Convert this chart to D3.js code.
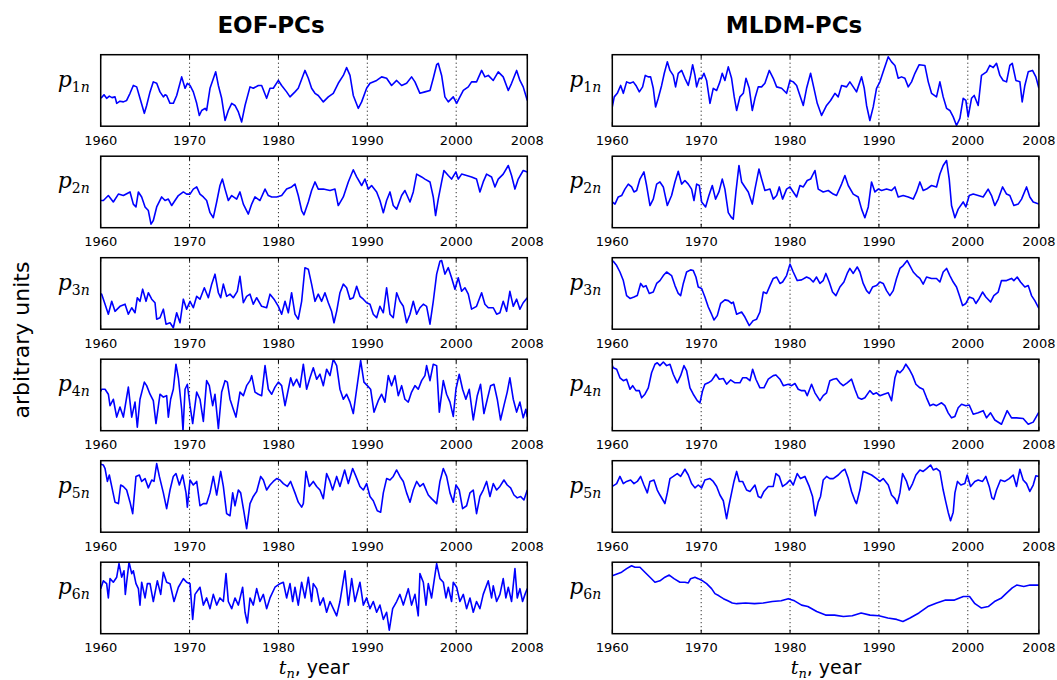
<!DOCTYPE html>
<html>
<head>
<meta charset="utf-8">
<script src="https://cdn.jsdelivr.net/npm/d3@7"></script>
<style>
  body { margin: 0; background: #fff; }
  svg { display: block; font-family: "DejaVu Sans", sans-serif; }
  .tick-label { font-size: 13px; fill: #000; }
  .grid-line { stroke: #000; stroke-width: 1; stroke-dasharray: 1,3; }
  .frame { fill: none; stroke: #000; stroke-width: 1.5; }
  .series { fill: none; stroke: #0000ff; stroke-width: 1.6; stroke-linejoin: round; }
</style>
</head>
<body>
<script>
// tick labels and grid years
const tickYears = [1960, 1970, 1980, 1990, 2000, 2008]
const gridYears = [1970, 1980, 1990, 2000]
const modes = ['1', '2', '3', '4', '5', '6']

// EOF principal components, [year, arbitrary units]
const eofP1 = [[1960.00,40],[1960.11,40],[1960.37,44],[1960.67,39],[1960.97,42],[1961.27,40],[1961.61,41],[1961.80,32],[1962.17,35],[1962.55,34],[1962.92,36],[1963.30,46],[1963.67,57],[1964.05,55],[1964.42,39],[1964.91,18],[1965.17,29],[1965.55,48],[1965.92,62],[1966.30,60],[1966.67,48],[1967.05,41],[1967.24,44],[1967.42,43],[1967.80,32],[1968.17,32],[1968.55,43],[1969.11,69],[1969.49,53],[1969.75,60],[1970.05,57],[1970.42,48],[1970.80,32],[1971.10,15],[1971.36,22],[1971.74,25],[1971.92,22],[1972.30,53],[1972.94,76],[1973.24,57],[1973.61,39],[1973.99,8],[1974.36,22],[1974.74,32],[1975.11,29],[1975.49,20],[1975.86,6],[1976.24,29],[1976.80,55],[1977.17,53],[1977.74,57],[1978.11,57],[1978.67,39],[1979.05,53],[1979.42,53],[1979.99,64],[1980.36,57],[1980.92,48],[1981.30,41],[1981.86,48],[1982.23,53],[1982.98,78],[1983.36,67],[1983.73,53],[1984.11,46],[1984.48,43],[1985.05,34],[1985.61,41],[1986.17,46],[1986.73,60],[1987.30,71],[1987.67,82],[1988.05,71],[1988.42,43],[1988.98,25],[1989.36,34],[1989.92,53],[1990.30,60],[1991.05,64],[1991.61,69],[1992.17,67],[1992.73,57],[1993.30,64],[1993.86,57],[1994.42,60],[1994.98,69],[1995.36,62],[1995.92,46],[1996.48,48],[1997.05,50],[1997.42,67],[1997.80,86],[1997.98,88],[1998.36,71],[1998.73,41],[1999.11,34],[1999.67,41],[2000.05,32],[2000.42,41],[2000.80,50],[2001.36,55],[2001.73,62],[2002.29,62],[2002.86,78],[2003.23,69],[2003.61,71],[2004.17,64],[2004.73,76],[2005.29,69],[2005.86,50],[2006.23,60],[2006.80,78],[2007.17,64],[2007.54,55],[2008.00,36]]

const eofP2 = [[1960.00,38],[1960.30,38],[1960.86,45],[1961.42,36],[1961.99,47],[1962.55,45],[1963.30,50],[1963.67,33],[1963.97,29],[1964.24,50],[1964.61,43],[1964.99,29],[1965.36,24],[1965.66,5],[1965.92,10],[1966.30,29],[1966.86,43],[1967.24,38],[1967.61,40],[1967.99,31],[1968.36,38],[1968.74,45],[1969.30,50],[1969.67,47],[1970.05,47],[1970.42,54],[1970.80,57],[1971.17,47],[1971.55,43],[1971.92,38],[1972.30,21],[1972.67,14],[1973.05,36],[1973.42,59],[1973.69,68],[1973.99,54],[1974.36,38],[1974.74,45],[1975.30,40],[1975.67,50],[1976.05,33],[1976.61,19],[1976.99,33],[1977.36,43],[1977.92,38],[1978.49,54],[1978.86,45],[1979.24,43],[1979.80,43],[1980.36,45],[1980.92,54],[1981.48,57],[1981.86,61],[1982.23,45],[1982.61,24],[1982.87,18],[1983.36,36],[1983.73,52],[1984.11,64],[1984.48,54],[1985.05,54],[1985.80,52],[1986.36,54],[1986.73,31],[1987.30,43],[1987.86,64],[1988.42,81],[1988.80,71],[1989.36,59],[1989.73,68],[1990.11,54],[1990.48,59],[1991.05,50],[1991.42,38],[1991.80,21],[1992.17,38],[1992.55,50],[1992.92,31],[1993.30,26],[1993.86,45],[1994.23,52],[1994.80,36],[1995.17,50],[1995.55,75],[1996.11,71],[1996.48,68],[1997.05,64],[1997.42,43],[1997.68,17],[1997.98,40],[1998.36,64],[1998.62,80],[1999.11,73],[1999.48,68],[1999.97,78],[2000.23,68],[2000.61,75],[2001.17,73],[2001.73,71],[2002.29,68],[2002.67,50],[2003.04,64],[2003.42,75],[2003.98,71],[2004.36,57],[2004.73,68],[2005.29,75],[2005.86,87],[2006.23,73],[2006.61,54],[2006.98,68],[2007.54,80],[2008.00,78]]

const eofP3 = [[1960.00,49],[1960.11,49],[1960.49,35],[1960.86,21],[1961.24,39],[1961.61,25],[1962.17,32],[1962.74,35],[1963.11,21],[1963.49,30],[1963.86,23],[1964.12,44],[1964.42,39],[1964.72,56],[1965.10,39],[1965.36,51],[1965.74,42],[1966.11,37],[1966.30,14],[1966.67,16],[1967.05,28],[1967.35,7],[1967.80,9],[1968.17,2],[1968.55,23],[1968.92,9],[1969.30,42],[1969.67,28],[1970.05,39],[1970.42,30],[1970.80,46],[1971.17,42],[1971.66,58],[1972.11,44],[1972.49,63],[1972.86,77],[1973.24,51],[1973.50,44],[1973.80,63],[1974.17,46],[1974.55,49],[1974.92,44],[1975.37,53],[1975.67,74],[1976.05,37],[1976.42,46],[1976.80,49],[1977.17,35],[1977.55,44],[1978.11,32],[1978.67,30],[1979.05,49],[1979.50,42],[1979.99,32],[1980.36,21],[1980.74,39],[1981.11,23],[1981.48,51],[1981.86,21],[1982.23,14],[1982.61,39],[1982.98,86],[1983.36,84],[1983.73,63],[1984.11,39],[1984.48,49],[1984.86,39],[1985.23,51],[1985.61,37],[1985.98,25],[1986.25,9],[1986.55,25],[1986.92,51],[1987.30,63],[1987.67,58],[1988.05,42],[1988.42,44],[1988.80,60],[1989.17,46],[1989.55,42],[1989.92,37],[1990.30,35],[1990.67,21],[1991.05,16],[1991.42,32],[1991.80,23],[1992.17,58],[1992.55,21],[1992.92,16],[1993.30,51],[1993.67,39],[1994.05,32],[1994.42,9],[1994.80,21],[1995.17,39],[1995.55,21],[1995.92,30],[1996.30,35],[1996.67,32],[1997.05,7],[1997.42,39],[1997.80,77],[1998.17,95],[1998.36,96],[1998.73,77],[1999.11,86],[1999.48,72],[1999.86,56],[2000.23,72],[2000.61,53],[2000.98,58],[2001.36,49],[2001.73,28],[2002.29,32],[2002.86,51],[2003.23,35],[2003.61,30],[2004.17,30],[2004.55,21],[2004.92,23],[2005.29,39],[2005.67,25],[2006.04,53],[2006.42,32],[2006.80,42],[2007.17,28],[2007.54,37],[2008.00,44]]

const eofP4 = [[1960.00,55],[1960.11,58],[1960.49,58],[1960.86,51],[1961.05,35],[1961.42,44],[1961.80,19],[1962.17,33],[1962.55,19],[1963.11,61],[1963.49,19],[1963.86,40],[1964.12,5],[1964.42,44],[1964.91,68],[1965.17,63],[1965.55,51],[1965.92,42],[1966.22,10],[1966.67,51],[1967.05,47],[1967.42,49],[1967.61,19],[1967.87,44],[1968.17,58],[1968.47,93],[1968.74,74],[1969.11,30],[1969.26,0],[1969.49,58],[1969.75,65],[1970.05,35],[1970.35,10],[1970.80,54],[1971.17,44],[1971.55,13],[1971.92,70],[1972.22,63],[1972.60,35],[1972.86,51],[1973.24,3],[1973.61,54],[1973.99,70],[1974.25,68],[1974.55,44],[1974.92,30],[1975.22,19],[1975.67,54],[1976.05,49],[1976.42,63],[1976.80,70],[1976.99,77],[1977.36,54],[1977.74,51],[1978.11,49],[1978.49,91],[1978.86,58],[1979.24,51],[1979.61,61],[1979.99,68],[1980.36,63],[1980.74,35],[1981.00,51],[1981.37,74],[1981.67,63],[1982.05,72],[1982.42,61],[1982.80,93],[1983.17,58],[1983.55,74],[1983.92,88],[1984.30,72],[1984.67,79],[1985.05,63],[1985.42,86],[1985.80,77],[1986.17,100],[1986.55,91],[1986.92,58],[1987.30,44],[1987.67,51],[1988.05,40],[1988.42,24],[1988.80,58],[1989.25,98],[1989.62,68],[1990.00,63],[1990.37,58],[1990.75,26],[1991.23,42],[1991.61,51],[1991.98,40],[1992.36,77],[1992.73,63],[1993.11,77],[1993.48,49],[1993.86,63],[1994.23,44],[1994.61,40],[1994.98,54],[1995.36,63],[1995.73,58],[1996.11,70],[1996.48,77],[1996.67,91],[1997.05,70],[1997.42,93],[1997.80,91],[1998.10,26],[1998.55,70],[1998.92,51],[1999.30,40],[1999.67,20],[1999.97,58],[2000.34,79],[2000.72,58],[2001.09,44],[2001.47,58],[2001.92,15],[2002.37,49],[2002.74,65],[2003.12,24],[2003.50,44],[2003.87,63],[2004.25,65],[2004.62,44],[2004.99,15],[2005.37,35],[2005.74,54],[2006.04,74],[2006.42,44],[2006.80,26],[2007.17,40],[2007.54,18],[2007.84,30],[2008.00,19]]

const eofP5 = [[1960.00,95],[1960.30,94],[1960.49,89],[1960.75,71],[1960.97,80],[1961.24,64],[1961.61,42],[1961.99,40],[1962.25,66],[1962.55,64],[1962.92,59],[1963.30,42],[1963.60,26],[1963.97,78],[1964.35,80],[1964.61,71],[1964.99,75],[1965.36,62],[1965.74,73],[1966.00,71],[1966.30,96],[1966.60,78],[1967.05,55],[1967.42,33],[1967.80,59],[1968.17,78],[1968.47,82],[1968.85,66],[1969.22,80],[1969.60,55],[1969.75,35],[1970.05,73],[1970.42,66],[1970.80,71],[1971.17,37],[1971.55,40],[1971.92,40],[1972.30,55],[1972.67,78],[1973.05,52],[1973.50,85],[1973.80,64],[1974.17,26],[1974.55,23],[1974.85,55],[1975.11,37],[1975.49,59],[1975.75,55],[1976.12,28],[1976.42,5],[1976.80,40],[1977.17,50],[1977.55,57],[1978.00,78],[1978.30,73],[1978.67,59],[1979.05,66],[1979.42,71],[1979.80,75],[1980.17,73],[1980.55,68],[1981.00,64],[1981.37,71],[1981.86,55],[1982.23,42],[1982.61,35],[1982.80,40],[1983.10,85],[1983.47,64],[1983.92,71],[1984.30,64],[1984.67,59],[1985.05,47],[1985.42,82],[1985.80,71],[1986.10,59],[1986.55,78],[1986.92,64],[1987.45,87],[1987.86,68],[1988.35,89],[1988.72,78],[1989.17,64],[1989.55,59],[1989.92,68],[1990.30,50],[1990.67,44],[1991.12,30],[1991.50,28],[1991.80,55],[1992.17,75],[1992.55,73],[1992.92,78],[1993.30,87],[1993.67,78],[1994.05,71],[1994.42,55],[1994.80,42],[1995.17,59],[1995.55,71],[1995.92,64],[1996.30,68],[1996.86,52],[1997.23,47],[1997.80,40],[1998.17,71],[1998.55,89],[1998.92,78],[1999.30,55],[1999.67,42],[1999.97,66],[2000.34,59],[2000.72,33],[2001.17,37],[2001.55,55],[2001.92,59],[2002.29,26],[2002.67,50],[2003.04,59],[2003.42,71],[2003.80,50],[2004.17,68],[2004.55,59],[2004.92,64],[2005.37,73],[2005.74,66],[2006.12,62],[2006.50,52],[2006.87,48],[2007.25,50],[2007.62,45],[2008.00,59]]

const eofP6 = [[1960.00,63],[1960.30,74],[1960.67,70],[1960.86,50],[1961.05,77],[1961.42,72],[1961.80,79],[1962.06,98],[1962.36,79],[1962.62,88],[1962.77,55],[1962.92,72],[1963.19,100],[1963.49,84],[1963.67,88],[1963.97,70],[1964.24,63],[1964.42,40],[1964.61,72],[1964.99,50],[1965.25,70],[1965.55,70],[1965.92,45],[1966.37,74],[1966.75,55],[1967.05,86],[1967.42,72],[1967.80,70],[1968.25,45],[1968.74,65],[1969.30,77],[1969.67,72],[1970.05,70],[1970.35,20],[1970.61,55],[1971.17,65],[1971.55,40],[1971.92,50],[1972.30,35],[1972.67,55],[1973.05,40],[1973.42,50],[1973.80,45],[1974.10,84],[1974.36,45],[1974.74,35],[1975.11,50],[1975.49,40],[1975.97,65],[1976.24,30],[1976.50,15],[1976.80,50],[1977.17,40],[1977.55,63],[1977.92,45],[1978.30,55],[1978.67,35],[1979.05,50],[1979.61,65],[1980.17,70],[1980.55,72],[1980.92,50],[1981.30,70],[1981.60,45],[1981.86,65],[1982.23,40],[1982.61,72],[1982.98,50],[1983.36,79],[1983.73,45],[1983.92,70],[1984.30,63],[1984.67,40],[1985.05,50],[1985.42,30],[1985.80,45],[1986.17,35],[1986.55,25],[1986.92,45],[1987.48,88],[1987.86,40],[1988.24,77],[1988.61,45],[1989.17,72],[1989.55,40],[1989.92,50],[1990.30,35],[1990.67,45],[1991.05,30],[1991.42,40],[1991.80,20],[1992.17,30],[1992.47,5],[1992.85,35],[1993.30,45],[1993.67,55],[1994.05,40],[1994.61,63],[1994.98,40],[1995.36,55],[1995.73,25],[1995.92,84],[1996.30,72],[1996.60,40],[1996.86,70],[1997.23,50],[1997.80,98],[1998.17,77],[1998.55,72],[1998.85,50],[1999.11,65],[1999.48,45],[1999.67,72],[2000.05,65],[2000.42,45],[2000.80,55],[2001.17,35],[2001.55,50],[2001.92,30],[2002.29,45],[2002.67,35],[2003.04,55],[2003.61,74],[2003.98,50],[2004.17,67],[2004.55,45],[2004.92,55],[2005.29,77],[2005.59,50],[2005.86,65],[2006.23,45],[2006.61,91],[2006.87,50],[2007.17,63],[2007.47,45],[2007.74,55],[2008.00,63]]

// MLDM principal components, [year, arbitrary units]
const mldmP1 = [[1960.00,27],[1960.22,41],[1960.56,46],[1960.94,57],[1961.24,46],[1961.61,62],[1961.99,60],[1962.36,62],[1962.66,57],[1963.04,48],[1963.41,55],[1963.71,71],[1964.05,69],[1964.31,69],[1964.61,53],[1964.87,27],[1965.17,39],[1965.55,57],[1965.85,74],[1966.19,90],[1966.49,78],[1966.86,71],[1967.12,55],[1967.42,74],[1967.80,78],[1968.17,67],[1968.55,57],[1968.81,71],[1969.04,86],[1969.30,71],[1969.49,55],[1969.79,67],[1970.05,67],[1970.31,74],[1970.61,64],[1970.99,32],[1971.36,53],[1971.74,50],[1972.11,62],[1972.37,74],[1972.67,64],[1973.05,83],[1973.42,67],[1973.72,41],[1973.99,22],[1974.36,41],[1974.74,46],[1975.04,67],[1975.41,53],[1975.75,22],[1976.05,39],[1976.42,55],[1976.80,55],[1977.17,60],[1977.66,78],[1978.11,67],[1978.49,55],[1979.05,53],[1979.61,46],[1979.99,64],[1980.36,62],[1980.74,57],[1981.11,43],[1981.49,29],[1981.86,53],[1982.31,74],[1982.69,53],[1983.06,32],[1983.55,15],[1984.11,29],[1984.56,36],[1985.05,46],[1985.42,41],[1985.80,57],[1986.36,55],[1986.73,62],[1987.11,55],[1987.48,48],[1988.05,69],[1988.35,53],[1988.61,29],[1988.98,8],[1989.36,27],[1989.73,53],[1990.11,62],[1990.48,76],[1991.05,97],[1991.42,90],[1991.80,85],[1992.17,67],[1992.55,69],[1992.92,67],[1993.30,55],[1993.67,62],[1994.05,74],[1994.53,86],[1995.17,85],[1995.55,62],[1995.92,46],[1996.48,41],[1996.86,62],[1997.23,41],[1997.61,25],[1997.98,22],[1998.36,13],[1998.73,1],[1999.11,11],[1999.48,39],[1999.78,36],[2000.04,13],[2000.42,39],[2000.72,43],[2001.17,29],[2001.54,71],[2002.11,76],[2002.48,85],[2002.86,82],[2003.23,88],[2003.61,71],[2003.98,64],[2004.36,62],[2004.73,85],[2005.00,88],[2005.41,64],[2005.86,62],[2006.12,34],[2006.42,57],[2006.80,76],[2007.28,78],[2007.66,69],[2008.00,53]]

const mldmP2 = [[1960.00,36],[1960.30,33],[1960.67,43],[1961.05,45],[1961.42,54],[1961.80,61],[1962.17,57],[1962.44,50],[1962.74,52],[1963.11,68],[1963.56,78],[1963.86,59],[1964.24,31],[1964.61,40],[1964.99,61],[1965.36,64],[1965.74,57],[1966.19,31],[1966.67,45],[1967.05,64],[1967.42,79],[1967.80,61],[1968.17,66],[1968.55,61],[1968.92,54],[1969.19,38],[1969.49,61],[1969.79,59],[1970.05,36],[1970.50,29],[1970.87,45],[1971.25,59],[1971.62,40],[1972.00,50],[1972.37,68],[1972.67,54],[1973.05,21],[1973.42,14],[1973.61,12],[1973.91,50],[1974.25,87],[1974.55,64],[1974.92,57],[1975.30,50],[1975.75,33],[1976.05,54],[1976.50,82],[1976.80,68],[1977.17,52],[1977.74,54],[1978.11,40],[1978.49,45],[1978.79,57],[1979.16,40],[1979.61,54],[1979.99,57],[1980.36,50],[1980.74,43],[1981.11,59],[1981.49,57],[1981.93,66],[1982.31,68],[1982.80,80],[1983.17,54],[1983.73,50],[1984.30,52],[1984.86,47],[1985.23,45],[1985.80,61],[1986.17,73],[1986.55,59],[1987.11,47],[1987.67,43],[1988.05,26],[1988.42,14],[1988.80,29],[1989.17,64],[1989.55,50],[1989.92,54],[1990.30,52],[1990.86,54],[1991.42,52],[1991.80,57],[1992.17,43],[1992.73,45],[1993.30,43],[1993.86,40],[1994.23,50],[1994.61,64],[1994.98,52],[1995.36,54],[1995.92,59],[1996.48,57],[1996.86,75],[1997.23,87],[1997.61,94],[1997.91,68],[1998.17,31],[1998.55,14],[1998.92,26],[1999.48,36],[1999.78,29],[2000.16,45],[2000.61,47],[2001.17,45],[2001.73,43],[2002.29,54],[2002.67,45],[2003.04,31],[2003.42,40],[2003.91,57],[2004.36,47],[2004.73,45],[2005.18,31],[2005.67,33],[2006.05,40],[2006.61,57],[2006.98,43],[2007.36,36],[2008.00,33]]

const mldmP3 = [[1960.00,95],[1960.11,95],[1960.49,89],[1960.86,80],[1961.24,68],[1961.61,47],[1961.99,43],[1962.44,45],[1962.81,47],[1963.19,64],[1963.49,59],[1963.79,61],[1964.16,50],[1964.61,52],[1964.99,64],[1965.36,68],[1965.74,75],[1966.11,80],[1966.67,75],[1967.05,61],[1967.42,50],[1967.69,47],[1967.99,64],[1968.36,80],[1968.81,83],[1969.11,82],[1969.41,73],[1969.67,59],[1970.05,57],[1970.42,45],[1970.80,31],[1971.17,21],[1971.44,13],[1971.81,19],[1972.19,36],[1972.67,41],[1973.05,40],[1973.42,36],[1973.61,38],[1973.99,21],[1974.55,24],[1974.92,17],[1975.41,5],[1975.86,12],[1976.24,14],[1976.61,24],[1976.99,52],[1977.36,50],[1977.74,61],[1978.11,71],[1978.49,73],[1978.86,64],[1979.16,66],[1979.61,75],[1979.99,91],[1980.36,80],[1980.81,68],[1981.30,69],[1981.86,73],[1982.23,71],[1982.61,66],[1982.98,73],[1983.36,64],[1983.73,68],[1984.03,78],[1984.41,66],[1984.78,52],[1985.16,47],[1985.61,59],[1986.06,66],[1986.43,78],[1986.73,85],[1987.11,78],[1987.56,87],[1987.86,80],[1988.23,64],[1988.61,54],[1988.91,50],[1989.28,59],[1989.73,61],[1990.11,66],[1990.48,64],[1990.86,54],[1991.23,47],[1991.61,54],[1991.98,71],[1992.36,85],[1992.73,89],[1993.18,96],[1993.48,89],[1993.86,80],[1994.23,75],[1994.61,71],[1994.98,63],[1995.36,73],[1995.92,71],[1996.48,71],[1996.86,66],[1997.23,80],[1997.61,85],[1997.98,75],[1998.36,66],[1998.73,59],[1999.11,45],[1999.41,33],[1999.78,36],[2000.16,45],[2000.61,43],[2000.91,36],[2001.28,43],[2001.66,52],[2002.03,45],[2002.56,38],[2002.93,47],[2003.42,52],[2003.79,68],[2004.36,68],[2004.92,71],[2005.18,68],[2005.56,73],[2005.93,66],[2006.42,59],[2006.80,61],[2007.17,47],[2007.54,40],[2008.00,29]]

const mldmP4 = [[1960.00,91],[1960.11,88],[1960.49,86],[1960.86,74],[1961.24,70],[1961.61,72],[1961.99,58],[1962.29,63],[1962.66,56],[1963.04,56],[1963.30,46],[1963.67,51],[1964.05,60],[1964.42,81],[1964.80,93],[1965.06,95],[1965.36,91],[1965.74,96],[1966.11,91],[1966.49,93],[1966.86,79],[1967.31,67],[1967.69,77],[1968.06,91],[1968.36,84],[1968.74,60],[1969.11,51],[1969.56,42],[1969.86,39],[1970.16,56],[1970.42,65],[1970.80,67],[1971.17,70],[1971.66,79],[1972.04,72],[1972.49,73],[1972.86,65],[1973.31,71],[1973.80,67],[1974.36,67],[1974.66,74],[1975.11,74],[1975.49,70],[1975.79,86],[1976.16,72],[1976.61,60],[1977.06,60],[1977.55,72],[1978.11,77],[1978.41,78],[1978.86,72],[1979.24,63],[1979.80,65],[1980.17,63],[1980.55,66],[1980.92,58],[1981.30,56],[1981.67,56],[1981.93,49],[1982.42,65],[1982.80,53],[1983.36,42],[1983.73,49],[1984.11,53],[1984.48,70],[1984.86,72],[1985.23,73],[1985.61,67],[1985.98,63],[1986.43,67],[1986.92,72],[1987.30,58],[1987.67,46],[1988.05,44],[1988.42,46],[1988.98,56],[1989.36,51],[1989.73,53],[1990.11,49],[1990.56,51],[1991.05,53],[1991.42,42],[1991.80,74],[1992.06,84],[1992.36,81],[1992.73,86],[1993.03,93],[1993.41,86],[1993.79,77],[1994.16,65],[1994.61,60],[1994.98,58],[1995.36,46],[1995.74,35],[1996.11,37],[1996.48,35],[1997.05,39],[1997.42,35],[1997.79,25],[1998.17,18],[1998.55,20],[1998.92,32],[1999.30,37],[1999.78,35],[2000.16,36],[2000.61,23],[2001.17,25],[2001.73,28],[2002.11,18],[2002.56,25],[2003.04,15],[2003.79,9],[2004.43,28],[2004.92,18],[2005.48,18],[2006.23,17],[2006.80,9],[2007.36,12],[2008.00,26]]

const mldmP5 = [[1960.00,64],[1960.49,68],[1960.86,78],[1961.24,68],[1961.61,71],[1962.06,73],[1962.44,68],[1962.81,71],[1963.19,78],[1963.56,66],[1963.94,55],[1964.24,71],[1964.69,73],[1965.06,59],[1965.36,52],[1965.74,44],[1965.92,40],[1966.19,55],[1966.49,75],[1966.86,78],[1967.31,82],[1967.69,78],[1968.17,88],[1968.55,80],[1968.92,68],[1969.30,62],[1969.67,66],[1970.05,62],[1970.42,73],[1970.99,75],[1971.36,71],[1971.74,64],[1972.11,52],[1972.49,44],[1972.86,19],[1973.12,37],[1973.42,55],[1973.69,71],[1973.99,85],[1974.29,71],[1974.66,71],[1975.11,59],[1975.49,57],[1976.05,66],[1976.42,50],[1976.72,48],[1977.06,57],[1977.55,64],[1978.11,64],[1978.41,82],[1978.79,78],[1979.16,64],[1979.61,68],[1979.99,73],[1980.36,66],[1980.81,82],[1981.18,75],[1981.67,78],[1982.16,64],[1982.53,50],[1982.83,23],[1983.17,42],[1983.43,50],[1983.73,73],[1984.11,78],[1984.48,75],[1984.86,75],[1985.42,80],[1985.80,85],[1986.17,88],[1986.55,75],[1986.92,57],[1987.30,44],[1987.48,40],[1987.86,59],[1988.23,85],[1988.61,83],[1989.17,80],[1989.73,75],[1990.11,71],[1990.48,75],[1991.05,66],[1991.42,52],[1991.80,47],[1992.06,40],[1992.36,55],[1992.66,82],[1993.11,71],[1993.41,59],[1993.79,68],[1994.16,80],[1994.61,87],[1994.98,85],[1995.36,89],[1995.81,94],[1996.11,87],[1996.48,89],[1996.86,85],[1997.23,59],[1997.53,42],[1997.79,28],[1998.06,16],[1998.36,28],[1998.55,55],[1998.84,71],[1999.22,66],[1999.67,68],[1999.93,80],[2000.31,64],[2000.79,71],[2001.17,73],[2001.66,71],[2002.03,78],[2002.41,64],[2002.71,48],[2002.93,46],[2003.23,59],[2003.68,73],[2004.17,71],[2004.66,75],[2005.11,80],[2005.48,64],[2005.86,88],[2006.23,73],[2006.61,68],[2006.98,57],[2007.36,66],[2007.66,79],[2008.00,78]]

const mldmP6 = [[1960.00,81],[1961.05,86],[1961.61,91],[1962.17,95],[1962.55,93],[1963.11,93],[1963.67,86],[1964.24,79],[1964.80,72],[1965.36,74],[1965.92,79],[1966.41,82],[1966.94,77],[1967.61,72],[1968.17,72],[1968.55,71],[1968.81,77],[1969.30,79],[1969.67,77],[1970.16,74],[1970.61,70],[1971.17,63],[1971.55,56],[1972.00,53],[1972.50,49],[1973.00,46],[1973.50,43],[1974.00,42],[1975.00,43],[1976.00,42],[1977.00,43],[1978.00,45],[1979.00,46],[1979.80,49],[1980.50,46],[1981.30,40],[1982.00,38],[1983.00,31],[1984.00,26],[1985.00,26],[1986.00,24],[1987.00,25],[1988.00,29],[1989.00,26],[1990.00,25],[1991.00,22],[1992.00,20],[1992.70,17],[1993.50,22],[1994.50,29],[1995.50,38],[1996.50,43],[1997.50,47],[1998.50,47],[1999.50,52],[2000.20,52],[2000.80,42],[2001.50,36],[2002.30,38],[2003.00,45],[2003.80,50],[2004.30,56],[2005.00,64],[2005.50,68],[2006.30,66],[2007.00,68],[2008.00,68]]

const eofSeries = [eofP1, eofP2, eofP3, eofP4, eofP5, eofP6]
const mldmSeries = [mldmP1, mldmP2, mldmP3, mldmP4, mldmP5, mldmP6]

const columns = [
  { title: 'EOF-PCs', left: 100.7, titleX: 271, labelX: 314, series: eofSeries },
  { title: 'MLDM-PCs', left: 612.3, titleX: 794, labelX: 826, series: mldmSeries }
]

const panelW = 426.6
const panelH = 71.5
const firstTop = 54.7
const step = 101.5

const svg = d3.select('body')
  .append('svg')
    .attr('width', 1057)
    .attr('height', 680)

//column titles
svg.selectAll('.col-title')
  .data(columns)
  .enter().append('text')
    .attr('class', 'col-title')
    .attr('x', d => d.titleX)
    .attr('y', 33)
    .attr('text-anchor', 'middle')
    .style('font-size', '23px')
    .style('font-weight', 'bold')
    .text(d => d.title)

//y axis label
svg.append('text')
  .attr('transform', 'translate(29,340) rotate(-90)')
  .attr('text-anchor', 'middle')
  .style('font-size', '22px')
  .text('arbitrary units')

//x axis labels: t_n, year
columns.forEach(col => {
  const t = svg.append('text')
    .attr('x', col.labelX)
    .attr('y', 674)
    .attr('text-anchor', 'middle')
    .style('font-size', '19px')
  t.append('tspan').style('font-family', 'DejaVu Serif').style('font-style', 'italic').text('t')
  t.append('tspan').style('font-family', 'DejaVu Serif').style('font-style', 'italic')
    .style('font-size', '13px').attr('dy', 4).text('n')
  t.append('tspan').attr('dy', -4).text(', year')
})

const line = d3.line()

columns.forEach((col, c) => {
  const x = d3.scaleLinear().domain([1960, 2008]).range([col.left, col.left + panelW])

  col.series.forEach((data, r) => {
    const top = firstTop + r * step
    const y = d3.scaleLinear().domain([0, 100]).range([top + panelH, top])
    const g = svg.append('g')
    const clipId = `clip-${c}-${r}`

    g.append('clipPath').attr('id', clipId)
      .append('rect')
        .attr('x', col.left).attr('y', top)
        .attr('width', panelW).attr('height', panelH)

    //dotted year grid
    g.selectAll('.grid-line')
      .data(gridYears)
      .enter().append('line')
        .attr('class', 'grid-line')
        .attr('x1', d => x(d)).attr('x2', d => x(d))
        .attr('y1', top).attr('y2', top + panelH)

    //series
    g.append('path')
      .datum(data)
      .attr('class', 'series')
      .attr('clip-path', `url(#${clipId})`)
      .attr('d', line.x(d => x(d[0])).y(d => y(d[1])))

    //frame
    g.append('rect')
      .attr('class', 'frame')
      .attr('x', col.left).attr('y', top)
      .attr('width', panelW).attr('height', panelH)

    //inward ticks, top and bottom
    const tickYs = [[top + panelH, -4], [top, 4]]
    tickYs.forEach(([ty, len]) => {
      g.selectAll(null)
        .data(tickYears)
        .enter().append('line')
          .attr('x1', d => x(d)).attr('x2', d => x(d))
          .attr('y1', ty).attr('y2', ty + len)
          .attr('stroke', '#000').attr('stroke-width', 1)
    })

    //tick labels
    g.selectAll('.tick-label')
      .data(tickYears)
      .enter().append('text')
        .attr('class', 'tick-label')
        .attr('x', d => x(d))
        .attr('y', top + panelH + 18.5)
        .attr('text-anchor', 'middle')
        .text(d => d)

    //mode label p_{kn}
    const lab = g.append('text')
      .attr('x', col.left - 11)
      .attr('y', top + 32)
      .attr('text-anchor', 'end')
      .style('font-family', 'DejaVu Serif')
    lab.append('tspan').style('font-style', 'italic').style('font-size', '22px').text('p')
    lab.append('tspan').style('font-size', '14px').attr('dy', 5).text(modes[r])
    lab.append('tspan').style('font-style', 'italic').style('font-size', '14px').text('n')
  })
})
</script>
</body>
</html>
